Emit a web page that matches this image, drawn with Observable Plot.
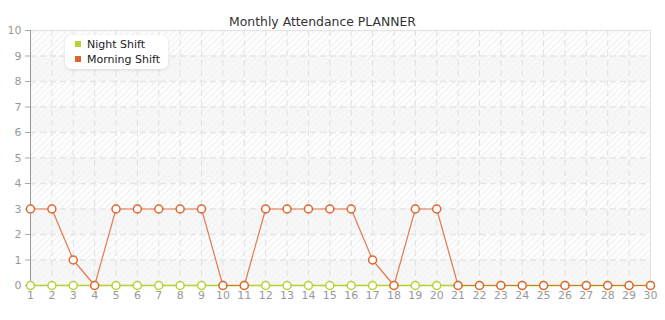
<!DOCTYPE html>
<html>
<head>
<meta charset="utf-8">
<script src="https://cdn.jsdelivr.net/npm/d3@7"></script>
<script src="https://cdn.jsdelivr.net/npm/@observablehq/plot@0.6"></script>
<style>
  html, body { margin: 0; padding: 0; background: #fff; }
  #chart { position: relative; width: 665px; height: 320px; }
  .legend { position: absolute; left: 65px; top: 35px; width: 103px; height: 34px; background: #fff;
    border-radius: 6px; box-shadow: 0 1px 3px rgba(0,0,0,0.12); font-family: "DejaVu Sans", Verdana, sans-serif;
    font-size: 11px; color: #222; box-sizing: border-box; padding: 2px 0 0 10px; line-height: 15px; }
  .legend .sw { display: inline-block; width: 6px; height: 6px; margin-right: 6px; vertical-align: 1px; }
</style>
</head>
<body>
<div id="chart"></div>
<script>
const title = "Monthly Attendance PLANNER";
const days = d3.range(1, 31);
const nightShift = [0,0,0,0,0,0,0,0,0,0,0,0,0,0,0,0,0,0,0,0,0,0,0,0,0,0,0,0,0,0];
const morningShift = [3,3,1,0,3,3,3,3,3,0,0,3,3,3,3,3,1,0,3,3,0,0,0,0,0,0,0,0,0,0];
const seriesNames = ["Night Shift", "Morning Shift"];
const seriesColors = ["#b5d334", "#e0642e"];
const yTicks = d3.range(0, 11);
const bandStarts = [0, 2, 4, 6, 8];

const night = days.map((d, i) => ({day: d, value: nightShift[i]}));
const morning = days.map((d, i) => ({day: d, value: morningShift[i]}));

const font = "DejaVu Sans, Verdana, sans-serif";

const plot = Plot.plot({
  width: 665,
  height: 320,
  marginLeft: 30,
  marginRight: 15,
  marginTop: 30,
  marginBottom: 35,
  style: {fontFamily: font, fontSize: "11px", background: "transparent"},
  x: {domain: [1, 30], ticks: days, tickFormat: d => d, label: null},
  y: {domain: [0, 10], ticks: yTicks, label: null},
  marks: [
    Plot.frame({fill: "url(#hatch)", stroke: "#e2e2e2"}),
    Plot.rectY(bandStarts, {y1: d => d, y2: d => d + 1, x1: 1, x2: 30, fill: "#f4f4f4", fillOpacity: 0.6}),
    Plot.gridX(days, {stroke: "#e0e0e0", strokeOpacity: 1, strokeDasharray: "6,4"}),
    Plot.gridY(yTicks, {stroke: "#e6e6e6", strokeOpacity: 1, strokeDasharray: "6,4", strokeWidth: 1.5}),
    Plot.axisY({ticks: yTicks, tickSize: 5, tickPadding: 4, stroke: "#aaa", color: "#999", fontSize: 11}),
    Plot.ruleX([1], {stroke: "#999", strokeWidth: 1}),
    Plot.axisX({ticks: days, tickSize: 0, tickPadding: 6, color: "#999", fontSize: 11}),
    Plot.line(night, {x: "day", y: "value", stroke: seriesColors[0], strokeWidth: 1.5}),
    Plot.dot(night, {x: "day", y: "value", r: 4, fill: "#fff", stroke: seriesColors[0], strokeWidth: 1.5}),
    Plot.line(morning, {x: "day", y: "value", stroke: seriesColors[1], strokeWidth: 1.2, strokeOpacity: 0.85}),
    Plot.dot(morning, {x: "day", y: "value", r: 4, fill: "#fff", stroke: seriesColors[1], strokeWidth: 1.5}),
    Plot.text([title], {frameAnchor: "top", dx: -18, dy: -13, text: d => d, fontSize: 12.4, fill: "#333", fontFamily: font})
  ]
});

// hatch pattern definition
const svg = d3.select(plot);
const defs = svg.insert("defs", ":first-child");
const pat = defs.append("pattern").attr("id", "hatch").attr("patternUnits", "userSpaceOnUse")
  .attr("width", 4.5).attr("height", 4.5).attr("patternTransform", "rotate(45)");
pat.append("rect").attr("width", 4.5).attr("height", 4.5).attr("fill", "#fdfdfd");
pat.append("line").attr("x1", 0).attr("y1", 0).attr("x2", 0).attr("y2", 4.5)
  .attr("stroke", "#e8e8e8").attr("stroke-width", 1.2);

const chart = document.getElementById("chart");
chart.appendChild(plot);

const legend = document.createElement("div");
legend.className = "legend";
legend.innerHTML = seriesNames.map((n, i) =>
  `<div><span class="sw" style="background:${seriesColors[i]}"></span>${n}</div>`).join("");
chart.appendChild(legend);
</script>
</body>
</html>
